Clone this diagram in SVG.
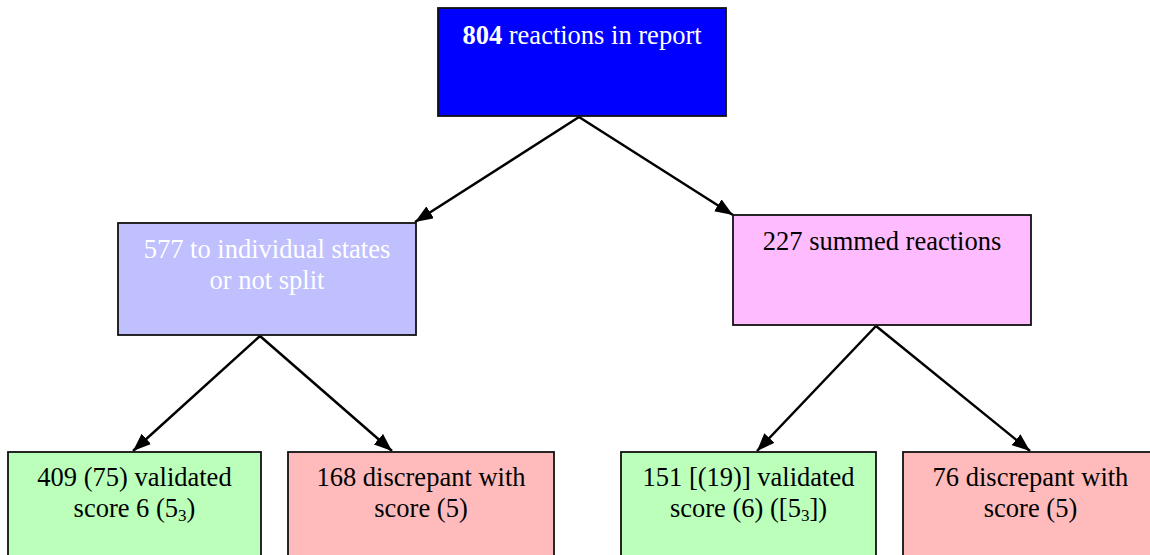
<svg xmlns="http://www.w3.org/2000/svg" width="1150" height="555" viewBox="0 0 1150 555">
<style>
.box{stroke:#111;stroke-width:1.8}
.t{font-family:"Liberation Serif","Times New Roman",serif;font-size:26.5px;text-anchor:middle;fill:#000}
.w{fill:#fff}
.c{stroke:#000;stroke-width:2.5;fill:none;marker-end:url(#ah)}
</style>
<defs>
<marker id="ah" viewBox="0 0 18 14" refX="18" refY="7" markerWidth="18" markerHeight="14" markerUnits="userSpaceOnUse" orient="auto">
<path d="M0,0 L18,7 L0,14 z" fill="#000"/>
</marker>
</defs>
<rect width="1150" height="555" fill="#fff"/>
<g id="connectors">
<line class="c" x1="579" y1="117" x2="415" y2="222"/>
<line class="c" x1="579" y1="117" x2="733" y2="215"/>
<line class="c" x1="260" y1="336" x2="133" y2="451"/>
<line class="c" x1="260" y1="336" x2="392" y2="451"/>
<line class="c" x1="876" y1="326" x2="757" y2="451"/>
<line class="c" x1="876" y1="326" x2="1030" y2="451"/>
</g>
<g id="n-top">
<rect class="box" x="438" y="8" width="288" height="108" fill="#0000ff"/>
<text class="t w" x="582" y="44"><tspan font-weight="bold">804</tspan> reactions in report</text>
</g>
<g id="n-individual">
<rect class="box" x="118" y="223" width="298" height="112" fill="#c0c0ff"/>
<text class="t w" x="267" y="258">577 to individual states</text>
<text class="t w" x="267" y="289">or not split</text>
</g>
<g id="n-summed">
<rect class="box" x="733" y="215" width="298" height="110" fill="#ffbbff"/>
<text class="t" x="882" y="250">227 summed reactions</text>
</g>
<g id="n-valid1">
<rect class="box" x="8" y="452" width="253" height="110" fill="#bbffbb"/>
<text class="t" x="134.5" y="486">409 (75) validated</text>
<text class="t" x="134.5" y="517">score 6 (5<tspan font-size="17" dy="4">3</tspan><tspan dy="-4">)</tspan></text>
</g>
<g id="n-disc1">
<rect class="box" x="288" y="452" width="266" height="110" fill="#ffbbbb"/>
<text class="t" x="421" y="486">168 discrepant with</text>
<text class="t" x="421" y="517">score (5)</text>
</g>
<g id="n-valid2">
<rect class="box" x="621" y="452" width="255" height="110" fill="#bbffbb"/>
<text class="t" x="748.5" y="486">151 [(19)] validated</text>
<text class="t" x="748.5" y="517">score (6) ([5<tspan font-size="17" dy="4">3</tspan><tspan dy="-4">])</tspan></text>
</g>
<g id="n-disc2">
<rect class="box" x="903" y="452" width="260" height="110" fill="#ffbbbb"/>
<text class="t" x="1030.5" y="486">76 discrepant with</text>
<text class="t" x="1030.5" y="517">score (5)</text>
</g>
</svg>
